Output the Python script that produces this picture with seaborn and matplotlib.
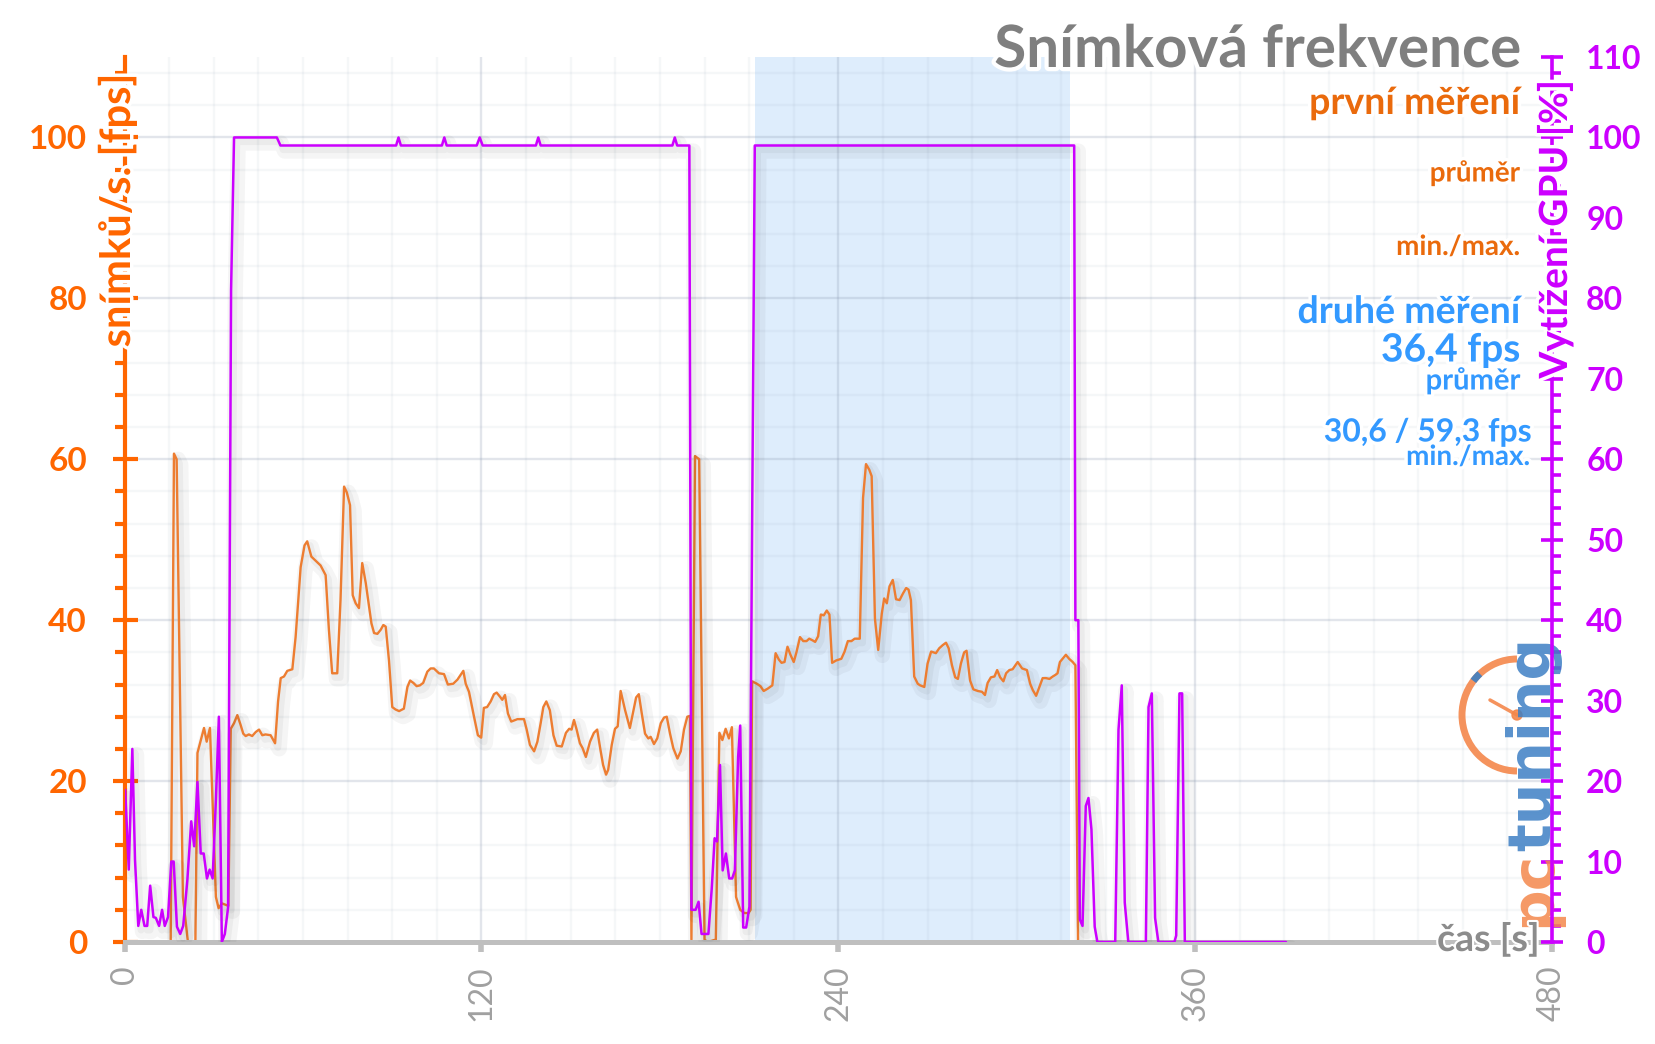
import numpy as np
import pandas as pd
import matplotlib
matplotlib.use('Agg')
import matplotlib.pyplot as plt
import matplotlib.patheffects as pe
from matplotlib.patches import Arc, Circle
from matplotlib.lines import Line2D
from matplotlib.ticker import MultipleLocator
from matplotlib.transforms import Affine2D
import seaborn as sns

# snimkova frekvence [fps] v case [s]
fps_t = [0, 15.5, 16.6, 17.5, 19.6, 21.3, 23.8, 24.5, 26.7, 27.6,
         28.7, 30.7, 31.6, 32.7, 34.1, 34.9, 35.7, 36.8, 37.9, 39.0,
         39.9, 40.7, 41.8, 42.9, 44.1, 45.2, 46.3, 47.4, 49.1, 50.6,
         51.6, 52.5, 53.6, 54.7, 56.4, 57.5, 59.2, 60.5, 61.4, 62.8,
         64.2, 65.9, 67.6, 68.7, 69.8, 71.5, 72.6, 73.8, 74.7, 75.8,
         76.7, 77.7, 78.8, 79.9, 81.1, 83.0, 83.9, 85.0, 86.1, 87.0,
         87.8, 88.9, 90.0, 91.1, 92.3, 93.9, 95.1, 96.0, 97.1, 98.2,
         99.3, 100.4, 101.8, 102.9, 104.0, 105.7, 107.4, 108.7, 110.5, 111.9,
         113.9, 114.7, 115.8, 117.5, 118.8, 119.9, 120.8, 121.9, 123.1, 124.2,
         125.1, 126.2, 127.0, 127.9, 128.9, 130.0, 132.1, 134.3, 135.2, 136.3,
         137.7, 138.8, 139.9, 140.8, 141.8, 143.0, 144.2, 145.3, 147.0, 148.4,
         149.5, 150.3, 151.1, 152.0, 153.1, 154.0, 155.1, 156.5, 157.8, 158.9,
         160.0, 160.9, 161.9, 162.6, 163.8, 164.9, 165.8, 166.8, 168.3, 169.9,
         171.1, 172.0, 172.9, 173.9, 175.0, 176.1, 176.9, 178.0, 179.1, 180.3,
         181.4, 182.3, 183.4, 184.5, 185.9, 187.0, 188.1, 189.2, 190.1, 190.6,
         191.8, 193.2, 195.0, 196.0, 198.8, 200.0, 201.0, 202.1, 203.2, 204.2,
         205.6, 207.0, 208.4, 209.8, 210.5, 211.0, 212.6, 213.8, 214.9, 216.3,
         217.8, 218.9, 220.0, 220.9, 221.9, 222.9, 223.9, 225.0, 225.9, 227.1,
         228.2, 229.3, 230.2, 231.3, 232.2, 233.2, 234.1, 235.1, 236.1, 237.0,
         237.9, 239.3, 241.0, 242.1, 243.2, 244.4, 245.5, 247.2, 248.3, 249.3,
         250.4, 251.2, 252.3, 253.4, 254.6, 255.4, 256.3, 257.2, 258.3, 259.4,
         260.6, 261.7, 262.8, 263.6, 264.4, 265.5, 266.7, 267.5, 268.9, 270.0,
         271.2, 272.8, 273.9, 275.1, 276.2, 277.1, 278.2, 279.3, 280.2, 281.2,
         282.3, 283.1, 284.3, 285.4, 286.9, 288.3, 289.3, 290.2, 291.3, 292.5,
         293.4, 294.4, 295.5, 296.4, 297.5, 298.6, 300.3, 301.8, 303.4, 304.5,
         305.4, 306.5, 307.6, 308.7, 309.8, 311.0, 312.1, 313.0, 313.7, 314.5,
         315.4, 316.5, 317.6, 318.8, 319.7, 320.6]
fps_v = [0, 0, 60.7, 60.0, 5.6, 0, 0, 23.5, 26.6, 24.9,
         26.6, 5.6, 4.2, 4.8, 4.6, 4.5, 26.5, 27.2, 28.2, 27.0,
         25.9, 25.6, 25.8, 25.6, 26.1, 26.4, 25.7, 25.8, 25.7, 24.7,
         29.9, 32.8, 33.0, 33.7, 33.9, 37.9, 46.6, 49.3, 49.8, 47.9,
         47.4, 46.8, 45.6, 38.8, 33.4, 33.4, 42.5, 56.6, 55.9, 54.3,
         43.1, 42.1, 41.5, 47.1, 44.6, 39.6, 38.4, 38.3, 38.8, 39.4,
         39.2, 35.0, 29.2, 28.9, 28.7, 29.0, 31.7, 32.5, 32.2, 31.8,
         31.9, 32.2, 33.6, 34.0, 34.0, 33.4, 33.3, 32.0, 32.1, 32.6,
         33.7, 32.1, 31.1, 28.0, 25.7, 25.4, 29.1, 29.2, 29.9, 30.8,
         31.0, 30.5, 30.1, 30.7, 28.4, 27.4, 27.7, 27.7, 26.4, 24.5,
         23.7, 24.9, 27.2, 29.2, 29.9, 28.8, 25.7, 24.4, 24.3, 26.0,
         26.5, 26.4, 27.6, 26.4, 24.7, 24.1, 23.0, 24.9, 26.0, 26.4,
         23.9, 22.0, 20.8, 21.4, 24.5, 26.5, 26.8, 31.2, 28.8, 26.6,
         28.8, 30.4, 30.8, 28.4, 25.9, 25.3, 25.5, 24.6, 25.3, 27.2,
         27.9, 28.0, 25.9, 24.1, 22.8, 23.7, 26.4, 28.0, 28.1, 0.3,
         60.4, 60.0, 0.3, 0, 0.3, 26.0, 25.1, 26.5, 25.3, 26.7,
         5.6, 4.0, 3.6, 3.6, 4.0, 32.4, 32.1, 31.8, 31.2, 31.5,
         31.9, 35.9, 35.1, 34.7, 34.8, 36.7, 35.7, 34.8, 36.0, 37.9,
         37.4, 37.4, 37.7, 37.5, 37.3, 38.0, 40.7, 40.6, 41.2, 40.7,
         34.7, 35.0, 35.2, 36.1, 37.4, 37.4, 37.7, 37.7, 55.2, 59.4,
         58.7, 57.9, 40.2, 36.3, 40.8, 42.7, 42.1, 44.2, 45.0, 42.6,
         42.5, 43.3, 44.0, 43.8, 42.5, 33.0, 32.1, 31.9, 31.7, 34.6,
         36.1, 35.9, 36.5, 36.9, 37.2, 36.5, 34.4, 32.9, 32.7, 34.6,
         36.0, 36.2, 32.5, 31.4, 31.2, 31.1, 30.7, 32.2, 32.9, 33.0,
         33.8, 32.9, 32.4, 33.4, 33.8, 33.9, 34.8, 34.0, 33.8, 32.1,
         31.3, 30.6, 31.7, 32.8, 32.8, 32.7, 33.0, 33.2, 33.4, 34.8,
         35.2, 35.7, 35.2, 34.8, 34.4, 0]

# vytizeni GPU [%]
gpu_t = [0.2, 1.4, 2.6, 3.5, 4.6, 5.6, 6.7, 7.6, 8.6, 9.7,
         10.5, 11.6, 12.6, 13.5, 14.6, 15.7, 16.5, 17.6, 18.7, 19.7,
         21.1, 22.4, 23.4, 24.5, 25.6, 26.6, 27.7, 28.6, 29.6, 30.7,
         31.7, 32.7, 33.7, 34.8, 35.8, 36.8, 51.2, 52.4,
         91.3, 92.1, 92.9, 106.7, 107.5, 108.3, 118.4, 119.4, 120.4,
         138.3, 139.1, 139.9, 184.2, 185.0, 185.8, 189.9,
         190.6, 192.0, 193.0, 194.0, 196.3, 197.4, 198.4, 199.2, 200.2, 201.1,
         202.2, 203.3, 204.3, 205.2, 206.3, 207.0, 208.0, 209.0, 210.1, 211.9,
         319.3, 319.7, 320.7, 321.2, 322.1, 323.2, 324.1, 325.1, 326.2, 327.1,
         333.1, 334.2, 335.3, 336.3, 337.5,
         343.4, 344.3, 345.4, 346.5, 347.6,
         353.0, 353.6, 354.7, 355.6, 356.5, 390.5]
gpu_v = [18.9, 9.0, 24.0, 10.2, 2.0, 4.0, 2.0, 2.0, 7.0, 3.1,
         3.0, 2.0, 4.0, 2.0, 3.1, 10.0, 10.0, 1.9, 1.0, 2.0,
         7.7, 15.0, 11.9, 19.9, 11.0, 11.0, 7.9, 9.0, 7.9, 17.7,
         28.0, 0.0, 1.0, 4.3, 81.0, 100, 100, 99,
         99, 100, 99, 99, 100, 99, 99, 100, 99,
         99, 100, 99, 99, 100, 99, 99,
         4.0, 4.0, 5.0, 1.0, 1.0, 6.5, 12.9, 12.5, 22.0, 8.9,
         11.0, 7.9, 7.9, 8.9, 23.0, 26.9, 1.8, 1.8, 4.4, 99,
         99, 40, 40, 2.8, 2.0, 16.9, 17.9, 14.0, 1.9, 0,
         0, 26.4, 31.9, 4.9, 0,
         0, 29.2, 30.9, 3.0, 0,
         0, 0.8, 30.9, 30.9, 0, 0]

druhe_mereni = (212, 318)          # zvyraznena oblast druheho mereni [s]
x_ticks = [0, 120, 240, 360, 480]
fps_ticks = [0, 20, 40, 60, 80, 100]
gpu_ticks = [0, 10, 20, 30, 40, 50, 60, 70, 80, 90, 100, 110]

ORANGE = '#ff6600'
ORANGE_TXT = '#ea6a0c'
LINE_ORANGE = '#ed7d31'
PURPLE = '#cc00ff'
BLUE = '#3399ff'
GRAY = '#7f7f7f'
GRID = (140 / 255, 155 / 255, 178 / 255)

sns.set_theme(style='white')
plt.rcParams['font.family'] = ['Lato', 'DejaVu Sans']

W, H = 1656, 1044
fig = plt.figure(figsize=(W / 100, H / 100), dpi=100)
fig.patch.set_facecolor('white')


def px(x, y):
    return x / W, 1 - y / H


ax = fig.add_axes([124.6 / W, 1 - 942 / H, 1427.5 / W, 885 / H])
ax2 = ax.twinx()

fps_df = pd.DataFrame({'t': fps_t, 'fps': fps_v})
gpu_df = pd.DataFrame({'t': gpu_t, 'gpu': gpu_v})

shadow = [pe.SimpleLineShadow(offset=(3, -4), shadow_color='black', alpha=0.04, linewidth=11),
          pe.SimpleLineShadow(offset=(2, -3), shadow_color='black', alpha=0.04, linewidth=5),
          pe.Normal()]

ax.axvspan(*druhe_mereni, color='#deedfc', lw=0, zorder=0.3)
sns.lineplot(data=fps_df, x='t', y='fps', ax=ax, color=LINE_ORANGE, lw=1.7,
             estimator=None, sort=False, path_effects=shadow)
sns.lineplot(data=gpu_df, x='t', y='gpu', ax=ax2, color=PURPLE, lw=1.8,
             estimator=None, sort=False, path_effects=shadow)
ax.set(xlabel='', ylabel='')
ax2.set(ylabel='')

ax.set_xlim(0, 480)
ax.set_ylim(0, 110)
ax2.set_ylim(0, 110)

# mrizka
ax.xaxis.set_minor_locator(MultipleLocator(15))
ax.yaxis.set_minor_locator(MultipleLocator(4))
ax2.yaxis.set_minor_locator(MultipleLocator(2))
ax.set_xticks(x_ticks, labels=[str(v) for v in x_ticks])
ax.set_yticks(fps_ticks, labels=[str(v) for v in fps_ticks], fontweight='bold')
ax2.set_yticks(gpu_ticks, labels=[str(v) for v in gpu_ticks], fontweight='bold')
ax.grid(which='major', color=GRID, alpha=0.25, lw=1.7)
ax.grid(which='minor', color=GRID, alpha=0.08, lw=1.7)
ax.set_axisbelow(True)

# osy
for s in ['top', 'right']:
    ax.spines[s].set_visible(False)
for s in ['top', 'left', 'bottom']:
    ax2.spines[s].set_visible(False)
ax.spines['left'].set_color(ORANGE)
ax.spines['left'].set_linewidth(3)
ax.spines['bottom'].set_color('#bfbfbf')
ax.spines['bottom'].set_linewidth(3.6)
ax2.spines['right'].set_color(PURPLE)
ax2.spines['right'].set_linewidth(2.6)

ax.tick_params(axis='y', which='major', left=True, direction='inout', length=18, width=3,
               color=ORANGE, labelcolor=ORANGE, labelsize=24, pad=18)
ax.tick_params(axis='y', which='minor', left=True, direction='out', length=7, width=3, color=ORANGE)
ax.tick_params(axis='x', which='major', bottom=True, direction='out', length=7, width=4,
               color='#bfbfbf', labelcolor='#a0a0a0', labelsize=23, pad=9.5, labelrotation=90)
ax.tick_params(axis='x', which='minor', length=0)
ax2.tick_params(axis='y', which='major', right=True, direction='inout', length=16, width=2.6,
                color=PURPLE, labelcolor=PURPLE, labelsize=23, pad=16.5)
ax2.tick_params(axis='y', which='minor', right=True, direction='out', length=6.5, width=2.6, color=PURPLE)

glow = [pe.withStroke(linewidth=5, foreground='white')]

fig.text(*px(117, 74), 'snímků/s. [fps]', rotation=90, ha='center', va='top',
         fontsize=30, fontweight='bold', color=ORANGE, path_effects=glow)
fig.text(*px(1555, 80), 'Vytížení GPU [%]', rotation=90, ha='center', va='top',
         fontsize=28, fontweight='bold', color=PURPLE, path_effects=glow)
fig.text(*px(1540, 951), 'čas [s]', ha='right', va='baseline',
         fontsize=27, fontweight='bold', color='#8c8c8c',
         path_effects=[pe.withStroke(linewidth=3, foreground='white')])

fig.text(*px(1522, 67), 'Snímková frekvence', ha='right', va='baseline',
         fontsize=42, fontweight='bold', color=GRAY,
         path_effects=[pe.withStroke(linewidth=6, foreground='white')])

legend_txt = [
    ('první měření', 1520, 103, 27, ORANGE_TXT),
    ('průměr', 1520, 173, 20, ORANGE_TXT),
    ('min./max.', 1520, 247, 20, ORANGE_TXT),
    ('druhé měření', 1520, 312, 27, BLUE),
    ('36,4 fps', 1520, 350, 28, BLUE),
    ('průměr', 1520, 381, 21, BLUE),
    ('30,6 / 59,3 fps', 1532, 432, 23, BLUE),
    ('min./max.', 1530, 457, 20, BLUE),
]
for txt, x, y, size, col in legend_txt:
    fig.text(*px(x, y), txt, ha='right', va='center', fontsize=size,
             fontweight='bold', color=col, path_effects=glow)

# logo pctuning
pix = Affine2D().scale(1, -1).translate(0, H)
ax2.add_artist(Arc((1517, 715), 110, 112, theta1=90, theta2=270, transform=pix,
                   color='#f4874b', lw=5, alpha=0.9, zorder=1.5, clip_on=False))
ax2.add_artist(Arc((1517, 715), 110, 112, theta1=218, theta2=228, transform=pix,
                   color='#3d7fc4', lw=5, alpha=0.9, zorder=1.6, clip_on=False))
ax2.add_artist(Line2D([1517, 1490], [715, 700], transform=pix, color='#f4874b',
                      lw=2.5, alpha=0.9, zorder=1.5, clip_on=False))
ax2.add_artist(Circle((1517, 715), 5, transform=pix, color='#f4874b', alpha=0.9,
                      zorder=1.5, clip_on=False))
t_pc = ax2.text(1550, 927, 'pc', transform=pix, rotation=90, rotation_mode='anchor',
                ha='left', va='baseline', fontsize=42, fontweight='bold',
                family='DejaVu Sans', color='#f4874b', alpha=0.85, zorder=1.5, clip_on=False)
bb = t_pc.get_window_extent(fig.canvas.get_renderer())
ax2.text(1550, H - bb.y1, 'tuning', transform=pix, rotation=90, rotation_mode='anchor',
         ha='left', va='baseline', fontsize=42, fontweight='bold',
         family='DejaVu Sans', color='#3d7fc4', alpha=0.85, zorder=1.5, clip_on=False)

fig.savefig('out.png', dpi=100, facecolor='white')
